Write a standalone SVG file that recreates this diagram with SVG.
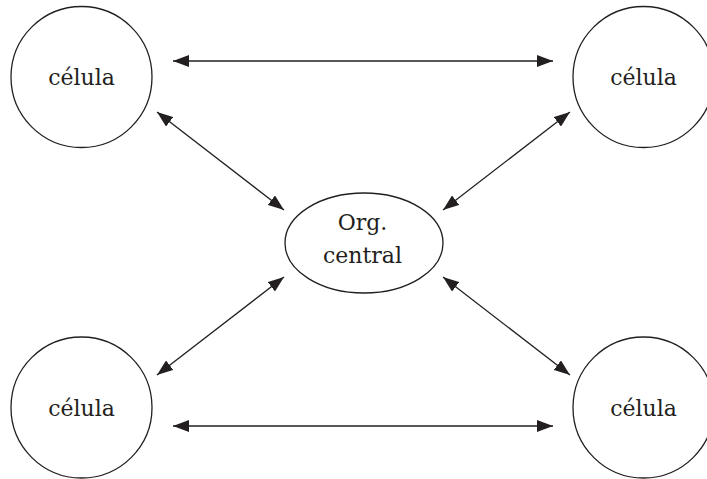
<svg xmlns="http://www.w3.org/2000/svg" width="707" height="479" viewBox="0 0 707 479">
<defs>
<style>
.n{fill:#fff;stroke:#231f20;stroke-width:1.3}
.t{font-family:"DejaVu Serif","Liberation Serif",serif;font-size:22px;fill:#231f20;text-anchor:middle}
.c{stroke:#231f20;stroke-width:1.3;fill:none;marker-start:url(#a);marker-end:url(#a)}
</style>
<marker id="a" markerUnits="userSpaceOnUse" markerWidth="16" markerHeight="12" refX="16" refY="6" orient="auto-start-reverse" viewBox="0 0 16 12">
<path d="M0,0 L16,6 L0,12 z" fill="#231f20"/>
</marker>
</defs>
<rect width="707" height="479" fill="#fff"/>
<g id="connectors">
<line class="c" x1="173" y1="61" x2="553" y2="61"/>
<line class="c" x1="173" y1="426" x2="553" y2="426"/>
<line class="c" x1="157" y1="112" x2="284" y2="210"/>
<line class="c" x1="570" y1="112" x2="443" y2="210"/>
<line class="c" x1="157" y1="375" x2="284" y2="277"/>
<line class="c" x1="570" y1="375" x2="443" y2="277"/>
</g>
<g id="cell-tl"><circle class="n" cx="81.5" cy="77" r="70.5"/><text class="t" x="81.5" y="85">célula</text></g>
<g id="cell-tr"><circle class="n" cx="643.5" cy="77" r="70.5"/><text class="t" x="643.5" y="85">célula</text></g>
<g id="cell-bl"><circle class="n" cx="81.5" cy="407.5" r="70.5"/><text class="t" x="81.5" y="416">célula</text></g>
<g id="cell-br"><circle class="n" cx="643.5" cy="407.5" r="70.5"/><text class="t" x="643.5" y="416">célula</text></g>
<g id="central"><ellipse class="n" cx="364" cy="243" rx="79" ry="50"/><text class="t" x="362.5" y="230">Org.</text><text class="t" x="362.5" y="263">central</text></g>
</svg>
